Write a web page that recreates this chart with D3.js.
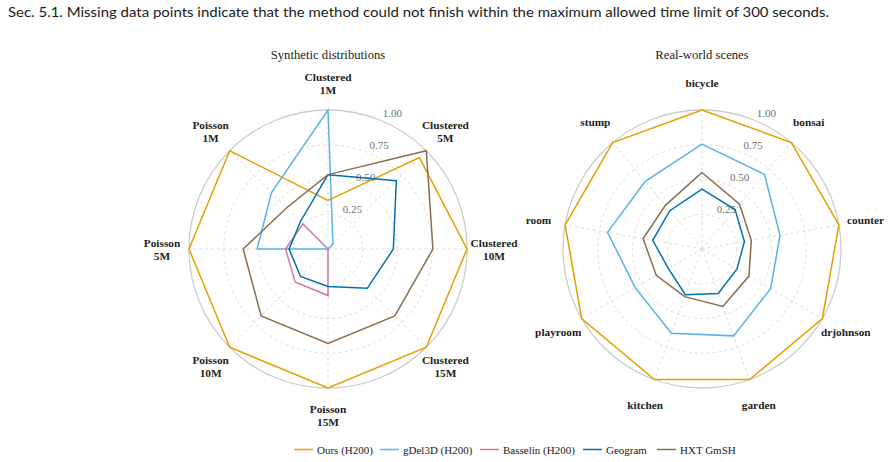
<!DOCTYPE html>
<html>
<head>
<meta charset="utf-8">
<script src="https://cdn.jsdelivr.net/npm/d3@7"></script>
<style>
  body { margin: 0; background: #fff; }
  svg { display: block; }
</style>
</head>
<body>
<div id="chart"></div>
<script>
// Radar charts: synthetic distributions vs real-world scenes

// Axis labels (clockwise from the top)
const synthAxes = [
  ['Clustered', '1M'], ['Clustered', '5M'], ['Clustered', '10M'], ['Clustered', '15M'],
  ['Poisson', '15M'], ['Poisson', '10M'], ['Poisson', '5M'], ['Poisson', '1M']
];
const realAxes = [
  ['bicycle'], ['bonsai'], ['counter'], ['drjohnson'], ['garden'],
  ['kitchen'], ['playroom'], ['room'], ['stump']
];

// Series names and colours
const methods = ['Ours (H200)', 'gDel3D (H200)', 'Basselin (H200)', 'Geogram', 'HXT GmSH'];
const methodColors = ['#e69f00', '#56b4e9', '#cc79a7', '#0072b2', '#8b6d4c'];

// Synthetic values (same order as synthAxes)
const synthOurs     = [0.35, 0.93, 1.00, 1.00, 1.00, 1.00, 1.00, 1.00];
const synthGdel     = [1.00, 0.05, 0.00, 0.00, 0.00, 0.00, 0.51, 0.575];
const synthBasselin = [0.00, 0.00, 0.00, 0.00, 0.335, 0.335, 0.305, 0.255];
const synthGeogram  = [0.535, 0.695, 0.47, 0.40, 0.27, 0.28, 0.28, 0.28];
const synthHxt      = [0.535, 1.00, 0.755, 0.68, 0.68, 0.68, 0.61, 0.42];

// Real-world values (same order as realAxes)
const realOurs    = [1.00, 1.00, 1.00, 1.00, 1.00, 1.00, 1.00, 1.00, 1.00];
const realGdel    = [0.755, 0.70, 0.57, 0.57, 0.665, 0.645, 0.555, 0.69, 0.635];
const realGeogram = [0.43, 0.37, 0.31, 0.29, 0.34, 0.35, 0.28, 0.36, 0.36];
const realHxt     = [0.55, 0.42, 0.36, 0.39, 0.44, 0.365, 0.38, 0.43, 0.41];

// Ring tick values
const ringTicks = [0.25, 0.50, 0.75, 1.00];

const width = 891;
const height = 462;
const radius = 139;
const serif = '"Liberation Serif", "DejaVu Serif", serif';

const svg = d3.select('#chart').append('svg')
  .attr('width', width)
  .attr('height', height);

// Caption line above the figure
svg.append('text')
  .attr('x', 8)
  .attr('y', 17)
  .attr('font-family', 'Lato, "Open Sans", sans-serif')
  .attr('font-size', 14)
  .attr('fill', '#1a1a1a')
  .attr('textLength', 821)
  .attr('lengthAdjust', 'spacingAndGlyphs')
  .text('Sec. 5.1. Missing data points indicate that the method could not finish within the maximum allowed time limit of 300 seconds.');

// Draw one radar chart
function drawRadar(cx, cy, title, axes, series) {
  const r = d3.scaleLinear().domain([0, 1]).range([0, radius]);
  const angle = d3.scaleLinear().domain([0, axes.length]).range([0, 2 * Math.PI]);

  const g = svg.append('g').attr('transform', `translate(${cx},${cy})`);

  // Title
  svg.append('text')
    .attr('x', cx)
    .attr('y', 59)
    .attr('text-anchor', 'middle')
    .attr('font-family', serif)
    .attr('font-size', 12.7)
    .attr('fill', '#222')
    .text(title);

  // Grid rings
  g.selectAll('.ring')
    .data(ringTicks)
    .enter().append('circle')
    .attr('r', d => r(d))
    .attr('fill', 'none')
    .attr('stroke', d => d === 1 ? '#cccccc' : '#dddddd')
    .attr('stroke-width', d => d === 1 ? 1.3 : 1)
    .attr('stroke-dasharray', d => d === 1 ? null : '3,3');

  // Spokes
  g.selectAll('.spoke')
    .data(axes)
    .enter().append('line')
    .attr('x1', 0).attr('y1', 0)
    .attr('x2', (d, i) => r(1) * Math.sin(angle(i)))
    .attr('y2', (d, i) => -r(1) * Math.cos(angle(i)))
    .attr('stroke', '#dddddd')
    .attr('stroke-width', 1)
    .attr('stroke-dasharray', '3,3');

  // Ring labels at 22.5 degrees
  const labelAngle = 22.5 * Math.PI / 180;
  g.selectAll('.ringLabel')
    .data(ringTicks)
    .enter().append('text')
    .attr('x', d => r(d) * Math.sin(labelAngle) + 1.5)
    .attr('y', d => -r(d) * Math.cos(labelAngle) - 3.5)
    .attr('font-family', serif)
    .attr('font-size', 11)
    .attr('fill', '#707070')
    .text(d => d3.format('.2f')(d));

  // Series polygons
  const line = d3.lineRadial()
    .angle((d, i) => angle(i))
    .radius(d => r(d))
    .curve(d3.curveLinearClosed);

  g.selectAll('.series')
    .data(series)
    .enter().append('path')
    .attr('d', d => line(d.values))
    .attr('fill', 'none')
    .attr('stroke', d => d.color)
    .attr('stroke-width', 1.5)
    .attr('stroke-linejoin', 'miter');

  // Axis labels
  const labels = g.selectAll('.axisLabel')
    .data(axes)
    .enter().append('text')
    .attr('text-anchor', 'middle')
    .attr('font-family', serif)
    .attr('font-size', 11.3)
    .attr('font-weight', 'bold')
    .attr('fill', '#222')
    .attr('transform', (d, i) => {
      const x = 166 * Math.sin(angle(i));
      const y = -166 * Math.cos(angle(i)) - (d.length - 1) * 6.5 + 4;
      return `translate(${x},${y})`;
    });

  labels.selectAll('tspan')
    .data(d => d)
    .enter().append('tspan')
    .attr('x', 0)
    .attr('dy', (d, i) => i === 0 ? 0 : 13)
    .text(d => d);
}

drawRadar(328, 249, 'Synthetic distributions', synthAxes, [
  { values: synthOurs, color: methodColors[0] },
  { values: synthGdel, color: methodColors[1] },
  { values: synthBasselin, color: methodColors[2] },
  { values: synthGeogram, color: methodColors[3] },
  { values: synthHxt, color: methodColors[4] }
]);

drawRadar(702, 249, 'Real-world scenes', realAxes, [
  { values: realOurs, color: methodColors[0] },
  { values: realGdel, color: methodColors[1] },
  { values: realGeogram, color: methodColors[3] },
  { values: realHxt, color: methodColors[4] }
]);

// Legend along the bottom
const legendX = [294, 380, 480, 583, 657];
const legend = svg.selectAll('.legend')
  .data(methods)
  .enter().append('g')
  .attr('transform', (d, i) => `translate(${legendX[i]}, 449.5)`);

legend.append('line')
  .attr('x1', 0).attr('x2', 19)
  .attr('y1', 0).attr('y2', 0)
  .attr('stroke', (d, i) => methodColors[i])
  .attr('stroke-width', 1.5);

legend.append('text')
  .attr('x', 23)
  .attr('y', 4)
  .attr('font-family', serif)
  .attr('font-size', 11)
  .attr('fill', '#222')
  .text(d => d);
</script>
</body>
</html>
